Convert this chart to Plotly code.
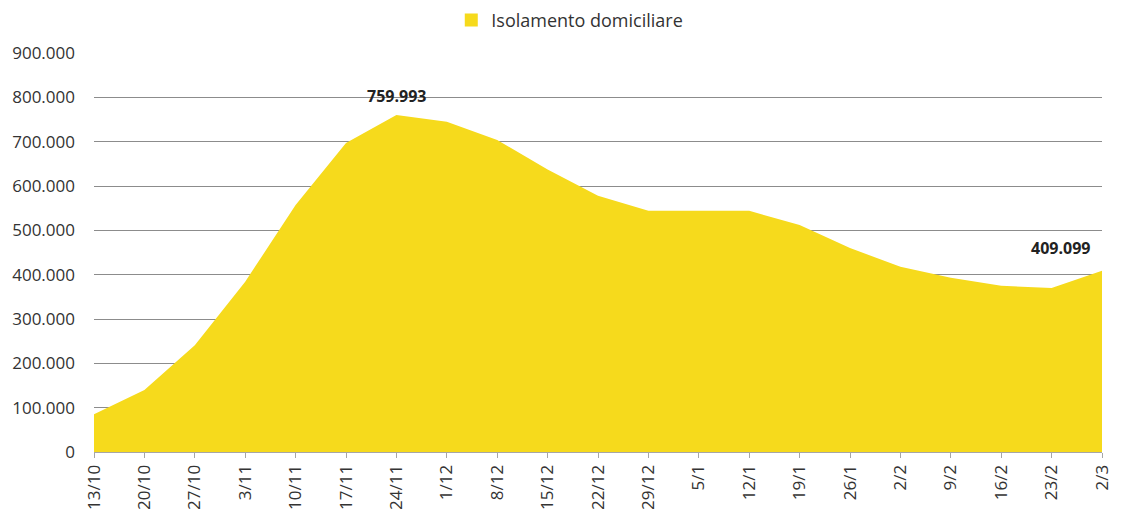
import plotly.graph_objects as go

dates = ["13/10", "20/10", "27/10", "3/11", "10/11", "17/11", "24/11", "1/12", "8/12", "15/12",
         "22/12", "29/12", "5/1", "12/1", "19/1", "26/1", "2/2", "9/2", "16/2", "23/2", "2/3"]
isolamento = [85000, 140000, 241000, 384000, 557000, 697000, 759993, 745000, 704000, 637000,
              578000, 544000, 544000, 544000, 512000, 460000, 418000, 393000, 375000, 370000, 409099]
labels = ["" for _ in dates]
labels[6] = "759.993"
labels[20] = "409.099"
series_name = "Isolamento domiciliare"
yticks = [0, 100000, 200000, 300000, 400000, 500000, 600000, 700000, 800000, 900000]

xs = list(range(len(dates)))
FONT = "Open Sans"
YELLOW = "#F6DA1C"

fig = go.Figure()
fig.add_trace(go.Scatter(
    x=xs, y=isolamento, mode="lines", fill="tozeroy",
    line=dict(color=YELLOW, width=0), fillcolor=YELLOW,
    name=series_name, showlegend=False,
))
# legend entry (square)
fig.add_trace(go.Scatter(
    x=[None], y=[None], mode="markers",
    marker=dict(symbol="square", size=13, color=YELLOW),
    name=series_name, showlegend=True,
))
# data labels
fig.add_annotation(x=xs[6], y=isolamento[6], text="<b>" + labels[6] + "</b>",
                   showarrow=False, yanchor="bottom", yshift=6,
                   font=dict(family=FONT, size=16, color="#222222"))
fig.add_annotation(x=xs[20], y=isolamento[20], text="<b>" + labels[20] + "</b>",
                   showarrow=False, yanchor="bottom", xanchor="right", xshift=-10, yshift=10,
                   font=dict(family=FONT, size=16, color="#222222"))

fig.update_layout(
    width=1124, height=509,
    margin=dict(l=86, r=30, t=45, b=65, autoexpand=False),
    paper_bgcolor="white", plot_bgcolor="white",
    separators=",.",
    font=dict(family=FONT, color="#333333", size=17),
    legend=dict(orientation="h", xref="paper", yref="paper", x=0.472, xanchor="center",
                y=1.082, yanchor="middle", font=dict(family=FONT, size=18, color="#333333"),
                itemsizing="trace"),
    showlegend=True,
)
fig.update_xaxes(
    range=[0, len(dates) - 1], tickmode="array", tickvals=xs, ticktext=dates,
    tickangle=-90, showgrid=False, showline=True, linecolor="#A6A6A6", linewidth=1,
    ticks="outside", ticklen=5, tickcolor="#A6A6A6", automargin=False,
    tickfont=dict(family=FONT, size=17, color="#333333"), zeroline=False,
)
fig.update_yaxes(
    range=[0, 900000], tickmode="array", tickvals=yticks, tickformat=",d",
    showgrid=True, gridcolor="#8C8C8C", gridwidth=1.2, zeroline=False, showline=False,
    automargin=False,
    tickfont=dict(family=FONT, size=17, color="#333333"), ticklabelstandoff=18,
)
fig.write_html("out.html")
